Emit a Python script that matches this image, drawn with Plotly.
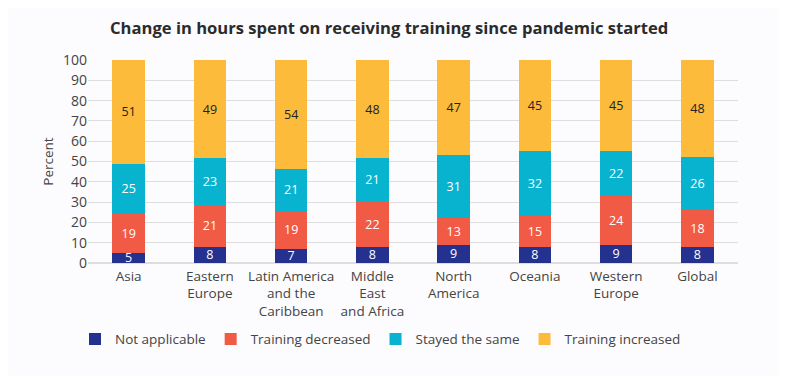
import plotly.graph_objects as go

categories = ["Asia", "Eastern<br>Europe", "Latin America<br>and the<br>Caribbean", "Middle<br>East<br>and Africa",
              "North<br>America", "Oceania", "Western<br>Europe", "Global"]
not_applicable = [5, 8, 7, 8, 9, 8, 9, 8]
training_decreased = [19, 21, 19, 22, 13, 15, 24, 18]
stayed_same = [25, 23, 21, 21, 31, 32, 22, 26]
training_increased = [51, 49, 54, 48, 47, 45, 45, 48]
y_ticks = [0, 10, 20, 30, 40, 50, 60, 70, 80, 90, 100]

FONT = "Open Sans"

series = [
    ("Not applicable", not_applicable, "#25318f", "white"),
    ("Training decreased", training_decreased, "#f15a45", "white"),
    ("Stayed the same", stayed_same, "#08b3cf", "white"),
    ("Training increased", training_increased, "#fdbb3c", "#222222"),
]

fig = go.Figure()
for name, vals, color, tcolor in series:
    fig.add_trace(go.Bar(
        name=name, x=categories, y=vals, marker=dict(color=color, line=dict(width=0)),
        text=[str(v) for v in vals], textposition="inside", insidetextanchor="middle",
        textangle=0, constraintext="none",
        textfont=dict(color=tcolor, size=12.5, family=FONT), width=0.4,
    ))

fig.update_layout(
    barmode="stack", barnorm="percent",
    width=786, height=376,
    margin=dict(l=80, r=56, t=52, b=121),
    paper_bgcolor="#fcfcfe", plot_bgcolor="#fcfcfe",
    font=dict(family=FONT, color="#444444", size=13),
    title=dict(text="<b>Change in hours spent on receiving training since pandemic started</b>",
               x=0.485, xanchor="center", y=0.947, yanchor="middle",
               font=dict(size=16.6, color="#2b2b2b", family=FONT)),
    legend=dict(orientation="h", x=0.45, xanchor="center", y=-0.375, yanchor="middle",
                font=dict(size=13.5, color="#444444"), traceorder="normal",
                bgcolor="rgba(0,0,0,0)"),
)
fig.update_xaxes(showgrid=False, showline=False, ticks="", automargin=False,
                 ticklabelstandoff=3,
                 tickfont=dict(size=13.5, color="#444444"))
fig.update_yaxes(range=[0, 100], tickvals=y_ticks, showgrid=True, gridcolor="#dedede", gridwidth=1,
                 zeroline=True, zerolinecolor="#dedede", ticks="", automargin=False,
                 tickfont=dict(size=14, color="#444444"),
                 title=dict(text="Percent", font=dict(size=13.5, color="#444444"), standoff=6))

fig.write_html("out.html")
